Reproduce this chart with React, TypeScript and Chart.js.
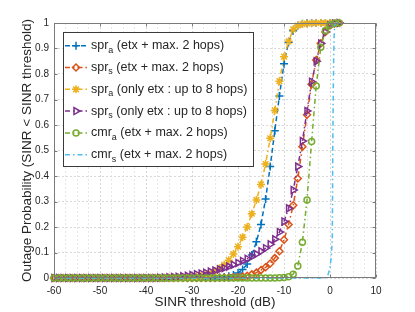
import React, { useEffect, useRef } from 'react';
import { Chart, registerables } from 'chart.js';

Chart.register(...registerables);

const FONT = '"Liberation Sans", Arial, Helvetica, sans-serif';
const TEXT = '#262626';

// SINR threshold (dB)
const snrDb = [
  -60, -59, -58, -57, -56, -55, -54, -53, -52, -51,
  -50, -49, -48, -47, -46, -45, -44, -43, -42, -41,
  -40, -39, -38, -37, -36, -35, -34, -33, -32, -31,
  -30, -29, -28, -27, -26, -25, -24, -23, -22, -21,
  -20, -19, -18, -17, -16, -15, -14, -13, -12, -11,
  -10, -9, -8, -7, -6, -5, -4, -3, -2, -1,
  0, 1, 2,
];

// spr_a (etx + max. 2 hops)
const sprA2Hop = [
  0, 0, 0, 0, 0, 0, 0, 0, 0, 0,
  0, 0, 0, 0, 0, 0, 0, 0, 0, 0,
  0, 0, 0, 0, 0, 0, 0, 0, 0, 0,
  0, 0, 0, 0, 0.001, 0.001, 0.002, 0.004, 0.007, 0.012,
  0.02, 0.033, 0.055, 0.09, 0.142, 0.21, 0.31, 0.437, 0.577, 0.714,
  0.84, 0.925, 0.97, 0.99, 0.997, 0.999, 1, 1, 1, 1,
  1, 1, 1,
];

// spr_s (etx + max. 2 hops)
const sprS2Hop = [
  0, 0, 0, 0, 0, 0, 0, 0, 0, 0,
  0, 0, 0, 0, 0, 0, 0, 0, 0, 0,
  0, 0, 0, 0, 0, 0, 0, 0, 0, 0,
  0, 0, 0, 0, 0, 0, 0.001, 0.001, 0.002, 0.003,
  0.004, 0.006, 0.009, 0.014, 0.021, 0.031, 0.042, 0.057, 0.078, 0.105,
  0.15, 0.21, 0.285, 0.39, 0.515, 0.64, 0.76, 0.855, 0.92, 0.965,
  0.99, 0.998, 1,
];

// spr_a (only etx : up to 8 hops)
const sprA8Hop = [
  0, 0, 0, 0, 0, 0, 0, 0, 0, 0,
  0, 0, 0, 0, 0, 0, 0, 0, 0, 0,
  0, 0, 0, 0, 0, 0.001, 0.001, 0.002, 0.003, 0.004,
  0.005, 0.007, 0.01, 0.013, 0.019, 0.027, 0.038, 0.052, 0.07, 0.094,
  0.123, 0.16, 0.2, 0.252, 0.306, 0.367, 0.447, 0.548, 0.657, 0.772,
  0.868, 0.928, 0.975, 0.99, 0.996, 0.998, 0.999, 1, 1, 1,
  1, 1, 1,
];

// spr_s (only etx : up to 8 hops)
const sprS8Hop = [
  0, 0, 0, 0, 0, 0, 0, 0, 0, 0,
  0, 0, 0, 0, 0, 0, 0, 0, 0, 0,
  0, 0, 0, 0.001, 0.002, 0.003, 0.004, 0.005, 0.007, 0.009,
  0.012, 0.015, 0.018, 0.021, 0.025, 0.029, 0.034, 0.039, 0.045, 0.052,
  0.059, 0.067, 0.075, 0.084, 0.094, 0.105, 0.117, 0.132, 0.152, 0.18,
  0.222, 0.273, 0.345, 0.437, 0.537, 0.655, 0.77, 0.85, 0.92, 0.965,
  0.99, 0.998, 1,
];

// cmr_a (etx + max. 2 hops)
const cmrA2Hop = [
  0, 0, 0, 0, 0, 0, 0, 0, 0, 0,
  0, 0, 0, 0, 0, 0, 0, 0, 0, 0,
  0, 0, 0, 0, 0, 0, 0, 0, 0, 0,
  0, 0, 0, 0, 0, 0, 0, 0, 0, 0,
  0, 0, 0, 0, 0, 0, 0, 0, 0, 0.001,
  0.002, 0.005, 0.015, 0.047, 0.14, 0.306, 0.535, 0.753, 0.905, 0.97,
  0.992, 0.999, 1,
];

// cmr_s (etx + max. 2 hops) — no markers, own x samples
const cmrSDb = [-60, -50, -40, -30, -20, -10, -2, -1, -0.5, 0, 0.25, 0.5, 0.6, 0.7, 0.8, 0.9, 1, 1.2, 2];
const cmrS2Hop = [0, 0, 0, 0, 0, 0, 0, 0.001, 0.008, 0.04, 0.08, 0.15, 0.5, 0.72, 0.86, 0.95, 0.99, 1, 1];

const xMajorTicks = [-60, -50, -40, -30, -20, -10, 0, 10];
const yMajorTicks = [0, 0.1, 0.2, 0.3, 0.4, 0.5, 0.6, 0.7, 0.8, 0.9, 1];

const legendBase = ['spr', 'spr', 'spr', 'spr', 'cmr', 'cmr'];
const legendSub = ['a', 's', 'a', 's', 'a', 's'];
const legendRest = [
  ' (etx + max. 2 hops)',
  ' (etx + max. 2 hops)',
  ' (only etx : up to 8 hops)',
  ' (only etx : up to 8 hops)',
  ' (etx + max. 2 hops)',
  ' (etx + max. 2 hops)',
];

const seriesStyle = [
  { color: '#0072BD', marker: 'cross', dash: [5, 3], radius: 4 },
  { color: '#D95319', marker: 'rectRot', dash: [5, 3, 1.5, 3], radius: 3.5 },
  { color: '#EDB120', marker: 'star', dash: [5, 3, 1.5, 3], radius: 4 },
  { color: '#7E2F8E', marker: 'triangle', dash: [5, 3, 1.5, 3], radius: 4 },
  { color: '#77AC30', marker: 'circle', dash: [5, 3, 1.5, 3], radius: 3 },
  { color: '#4DBEEE', marker: 'none', dash: [5, 3, 1.5, 3], radius: 0 },
];

function drawMarker(ctx: CanvasRenderingContext2D, marker: string, x: number, y: number, r: number, color: string) {
  if (marker === 'none') return;
  ctx.save();
  ctx.strokeStyle = color;
  ctx.lineWidth = 1.5;
  ctx.setLineDash([]);
  ctx.beginPath();
  if (marker === 'cross') {
    ctx.moveTo(x - r, y); ctx.lineTo(x + r, y);
    ctx.moveTo(x, y - r); ctx.lineTo(x, y + r);
  } else if (marker === 'rectRot') {
    ctx.moveTo(x, y - r); ctx.lineTo(x + r, y); ctx.lineTo(x, y + r); ctx.lineTo(x - r, y); ctx.closePath();
  } else if (marker === 'star') {
    for (let k = 0; k < 4; k++) {
      const a = (k * Math.PI) / 4;
      ctx.moveTo(x - Math.cos(a) * r, y - Math.sin(a) * r);
      ctx.lineTo(x + Math.cos(a) * r, y + Math.sin(a) * r);
    }
  } else if (marker === 'triangle') {
    let a = Math.PI / 2;
    ctx.moveTo(x + Math.sin(a) * r, y - Math.cos(a) * r);
    a += (2 * Math.PI) / 3;
    ctx.lineTo(x + Math.sin(a) * r, y - Math.cos(a) * r);
    a += (2 * Math.PI) / 3;
    ctx.lineTo(x + Math.sin(a) * r, y - Math.cos(a) * r);
    ctx.closePath();
  } else if (marker === 'circle') {
    ctx.arc(x, y, r, 0, Math.PI * 2);
  }
  ctx.stroke();
  ctx.restore();
}

const matlabPlugin = {
  id: 'matlabDecor',
  afterDraw(chart: any) {
    const ctx: CanvasRenderingContext2D = chart.ctx;
    const { left, right, top, bottom } = chart.chartArea;
    const xs = chart.scales.x;
    const ys = chart.scales.y;
    ctx.save();
    // box
    ctx.strokeStyle = '#7a7a7a';
    ctx.lineWidth = 1;
    ctx.setLineDash([]);
    const L = Math.round(left) + 0.5, R = Math.round(right) - 0.5, T = Math.round(top) + 0.5, B = Math.round(bottom) - 0.5;
    ctx.strokeRect(L, T, R - L, B - T);
    // inside ticks
    ctx.beginPath();
    const tl = 3;
    xMajorTicks.forEach((v) => {
      const px = Math.round(xs.getPixelForValue(v)) + 0.5;
      ctx.moveTo(px, B); ctx.lineTo(px, B - tl);
      ctx.moveTo(px, T); ctx.lineTo(px, T + tl);
    });
    yMajorTicks.forEach((v) => {
      const py = Math.round(ys.getPixelForValue(v)) + 0.5;
      ctx.moveTo(L, py); ctx.lineTo(L + tl, py);
      ctx.moveTo(R, py); ctx.lineTo(R - tl, py);
    });
    ctx.stroke();

    // legend
    const bx = 63.5, by = 32.5, bw = 190, bh = 134;
    ctx.fillStyle = '#ffffff';
    ctx.fillRect(bx, by, bw, bh);
    ctx.strokeStyle = '#3a3a3a';
    ctx.lineWidth = 1;
    ctx.strokeRect(bx, by, bw, bh);
    const row0 = 45.7, step = 21.8;
    for (let i = 0; i < legendBase.length; i++) {
      const st = seriesStyle[i];
      const yy = row0 + i * step;
      ctx.save();
      ctx.strokeStyle = st.color;
      ctx.lineWidth = 1.5;
      ctx.setLineDash(st.dash);
      ctx.beginPath();
      ctx.moveTo(65, yy);
      ctx.lineTo(87, yy);
      ctx.stroke();
      ctx.restore();
      drawMarker(ctx, st.marker, 76, yy, st.radius, st.color);
      ctx.fillStyle = TEXT;
      ctx.textBaseline = 'middle';
      ctx.textAlign = 'left';
      let tx = 91;
      ctx.font = `12.5px ${FONT}`;
      ctx.fillText(legendBase[i], tx, yy);
      tx += ctx.measureText(legendBase[i]).width;
      ctx.font = `9px ${FONT}`;
      ctx.fillText(legendSub[i], tx, yy + 4.5);
      tx += ctx.measureText(legendSub[i]).width;
      ctx.font = `12.5px ${FONT}`;
      ctx.fillText(legendRest[i], tx, yy);
    }
    ctx.restore();
  },
};

export default function App() {
  const ref = useRef<HTMLCanvasElement | null>(null);

  useEffect(() => {
    document.body.style.margin = '0';
    const canvas = ref.current;
    if (!canvas) return;

    const mk = (i: number, xsArr: number[], ysArr: number[], label: string) => {
      const st = seriesStyle[i];
      return {
        label,
        data: xsArr.map((x, k) => ({ x, y: ysArr[k] })),
        borderColor: st.color,
        backgroundColor: 'transparent',
        borderWidth: 1.5,
        borderDash: st.dash,
        pointStyle: st.marker === 'none' ? false : st.marker,
        pointRadius: st.radius,
        pointRotation: st.marker === 'triangle' ? 90 : 0,
        pointBorderColor: st.color,
        pointBackgroundColor: 'transparent',
        pointBorderWidth: 1.5,
        tension: 0,
        clip: false,
        order: 6 - i,
      };
    };

    const chart = new Chart(canvas, {
      type: 'line',
      data: {
        datasets: [
          mk(0, snrDb, sprA2Hop, 'spr_a (etx + max. 2 hops)'),
          mk(1, snrDb, sprS2Hop, 'spr_s (etx + max. 2 hops)'),
          mk(2, snrDb, sprA8Hop, 'spr_a (only etx : up to 8 hops)'),
          mk(3, snrDb, sprS8Hop, 'spr_s (only etx : up to 8 hops)'),
          mk(4, snrDb, cmrA2Hop, 'cmr_a (etx + max. 2 hops)'),
          mk(5, cmrSDb, cmrS2Hop, 'cmr_s (etx + max. 2 hops)'),
        ] as any,
      },
      options: {
        responsive: false,
        animation: false,
        devicePixelRatio: 1,
        layout: { padding: { left: 0, top: 23, right: 39, bottom: 0 } },
        plugins: { legend: { display: false }, tooltip: { enabled: false } },
        scales: {
          x: {
            type: 'linear',
            min: -60,
            max: 10,
            ticks: {
              stepSize: 2.5,
              maxTicksLimit: 100,
              autoSkip: false,
              maxRotation: 0,
              padding: 7,
              color: TEXT,
              font: { family: FONT, size: 10 },
              callback: (v: any) => (xMajorTicks.includes(Number(v)) ? String(v) : ''),
            },
            grid: {
              drawTicks: false,
              lineWidth: 1,
              color: (c: any) => (c.tick && xMajorTicks.includes(c.tick.value) ? '#d4d4d4' : '#e6e6e6'),
            },
            border: { display: false, dash: [2, 2] },
            title: {
              display: true,
              text: 'SINR threshold (dB)',
              color: TEXT,
              font: { family: FONT, size: 13.5 },
              padding: { top: 0, bottom: 2 },
            },
            afterFit: (s: any) => { s.height = 34; },
          },
          y: {
            type: 'linear',
            min: 0,
            max: 1,
            ticks: {
              stepSize: 0.1,
              padding: 5,
              color: TEXT,
              font: { family: FONT, size: 10 },
              callback: (v: any) => String(Math.round(Number(v) * 10) / 10),
            },
            grid: { drawTicks: false, lineWidth: 1, color: '#d9d9d9' },
            border: { display: false, dash: [2, 2] },
            title: {
              display: true,
              text: 'Outage Probability (SINR < SINR threshold)',
              color: TEXT,
              font: { family: FONT, size: 13.5 },
              padding: { top: 19, bottom: 0 },
            },
            afterFit: (s: any) => { s.width = 54; },
          },
        },
      } as any,
      plugins: [matlabPlugin],
    });

    return () => chart.destroy();
  }, []);

  return (
    <div style={{ width: 415, height: 312 }}>
      <canvas ref={ref} width={415} height={312} style={{ display: 'block' }} />
    </div>
  );
}
